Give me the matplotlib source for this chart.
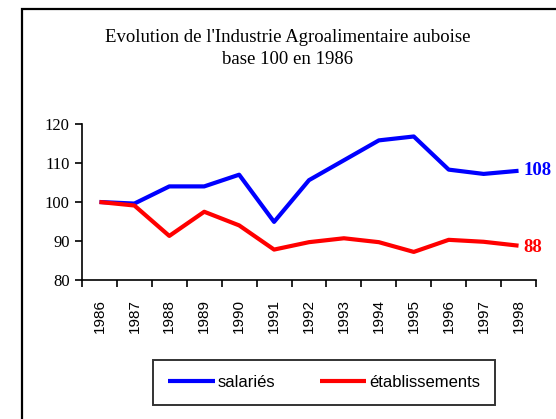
import matplotlib
matplotlib.use('Agg')
import matplotlib.pyplot as plt
from matplotlib.patches import Rectangle
import numpy as np

# ---------------------------------------------------------------------------
# Data
# ---------------------------------------------------------------------------
years = ['1986', '1987', '1988', '1989', '1990', '1991', '1992',
         '1993', '1994', '1995', '1996', '1997', '1998']
salaries = [100, 99.6, 104, 104, 107, 94.9, 105.6, 110.7, 115.8, 116.8, 108.3, 107.2, 108]
etablissements = [100, 99.1, 91.3, 97.5, 94.0, 87.8, 89.7, 90.7, 89.7, 87.2, 90.3, 89.8, 88.8]
end_labels = ['108', '88']

W, H = 556, 419
fig = plt.figure(figsize=(W / 100, H / 100), dpi=100)

# outer chart frame (cropped on the right and bottom in the reference)
fig.patches.append(Rectangle((22 / W, -0.05), 1.0, 1 - 9 / H + 0.05,
                             transform=fig.transFigure, fill=False,
                             edgecolor='black', lw=1.6, clip_on=False))

ax = fig.add_axes([82 / W, 1 - 280 / H, (536 - 82) / W, (280 - 124) / H])

x = np.arange(len(years))
l1, = ax.plot(x, salaries, color='#0000ff', lw=3, solid_capstyle='butt')
l2, = ax.plot(x, etablissements, color='#ff0000', lw=3, solid_capstyle='butt')

ax.set_xlim(-0.5, len(years) - 0.5)
ax.set_ylim(80, 120)
ax.set_yticks([80, 90, 100, 110, 120])
ax.set_yticklabels(['80', '90', '100', '110', '120'],
                   fontfamily='Liberation Serif', fontsize=12)

# ticks on category boundaries, labels on category centres
ax.set_xticks(np.arange(len(years) + 1) - 0.5)
ax.set_xticklabels([])
ax.set_xticks(x, minor=True)
ax.set_xticklabels(years, minor=True, rotation=90,
                   fontfamily='Liberation Sans', fontsize=11)
ax.tick_params(axis='x', which='minor', length=0, pad=14)
ax.tick_params(axis='both', which='major', length=5, width=1.2, direction='out')
ax.tick_params(axis='y', pad=4)

for side in ('top', 'right'):
    ax.spines[side].set_visible(False)
for side in ('left', 'bottom'):
    ax.spines[side].set_linewidth(1.2)

# end-of-line value labels
ax.text(x[-1] + 0.15, salaries[-1], end_labels[0], color='#0000ff',
        fontfamily='Liberation Serif', fontweight='bold', fontsize=13.5,
        va='center', ha='left', clip_on=False)
ax.text(x[-1] + 0.15, etablissements[-1] - 0.5, end_labels[1], color='#ff0000',
        fontfamily='Liberation Serif', fontweight='bold', fontsize=13.5,
        va='center', ha='left', clip_on=False)

# title
fig.text(288 / W, 1 - 37 / H, "Evolution de l'Industrie Agroalimentaire auboise",
         ha='center', va='center', fontfamily='Liberation Serif', fontsize=13.5)
fig.text(288 / W, 1 - 60 / H, "base 100 en 1986",
         ha='center', va='center', fontfamily='Liberation Serif', fontsize=13.5)

leg = fig.legend([l1, l2], ['salariés', 'établissements'],
                 loc='center', bbox_to_anchor=(324 / W, 1 - 382 / H),
                 ncol=2, frameon=True, fancybox=False, handlelength=2.8,
                 handletextpad=0.15, columnspacing=2.7, borderpad=0.9,
                 prop={'family': 'Liberation Sans', 'size': 12})
leg.get_frame().set_edgecolor('black')
leg.get_frame().set_linewidth(1.4)

fig.savefig('out.png', dpi=100)
